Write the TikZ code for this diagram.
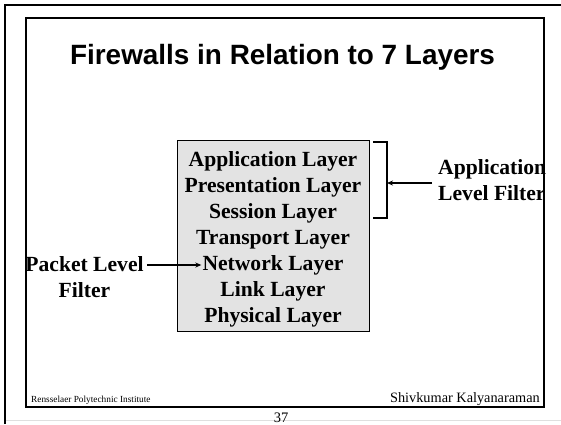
\documentclass[tikz,border=0pt]{standalone}
\usepackage{fontspec}
\setmainfont{Liberation Serif}
\newfontfamily\titlefont{Liberation Sans}
\usetikzlibrary{arrows.meta}
\tikzset{
  layer/.style={font=\bfseries\fontsize{21.6}{26}\selectfont, inner sep=0pt, anchor=base},
  label/.style={font=\bfseries\fontsize{21.6}{26}\selectfont, inner sep=0pt},
  pointer/.style={line width=1.2pt, -{Stealth[length=6pt,width=5pt]}},
}
\begin{document}
\begin{tikzpicture}[x=1pt,y=-1pt]
\useasboundingbox (0,0) rectangle (561,424);
% slide edges
\draw[gray!25, line width=1pt] (5,420.7) -- (561,420.7);
\draw[line width=2pt] (5,424) -- (5,5) -- (561,5);
% title
\node[font=\titlefont\bfseries\fontsize{27.9}{32}\selectfont, inner sep=0pt, anchor=base] (title) at (282.5,64) {Firewalls in Relation to 7 Layers};
% layer stack
\node[draw, line width=1pt, fill=black!11, minimum width=192pt, minimum height=191pt, inner sep=0pt] (stack) at (273,235.5) {};
\node[layer] (app)  at (273,166) {Application Layer};
\node[layer] (pres) at (273,192) {Presentation Layer};
\node[layer] (sess) at (273,218) {Session Layer};
\node[layer] (trans) at (273,244) {Transport Layer};
\node[layer] (net)  at (273,270) {Network Layer};
\node[layer] (link) at (273,296) {Link Layer};
\node[layer] (phys) at (273,322) {Physical Layer};
% bracket over the upper three layers
\coordinate (bt) at (387,142);
\coordinate (bb) at (387,218);
\draw[line width=1.2pt] (373,142) -- (bt) -- (bb) -- (373,218);
\coordinate (bm) at (387,183);
% filter labels (base anchor sits on the last line)
\node[label, align=left, anchor=base west] (appf) at (438,200) {Application\\Level Filter};
\node[label, align=center, anchor=base] (pktf) at (84.5,297) {Packet Level\\Filter};
\coordinate (as) at (432,183);
\coordinate (ps) at (147,265);
\draw[pointer] (as) -- (bm);
\draw[pointer] (ps) -- ([xshift=-1pt]net.west |- ps);
% inner frame
\draw[line width=1.1pt] (26,18) rectangle (544,407);
% footer
\node[font=\fontsize{9.3}{11}\selectfont, inner sep=0pt, anchor=base west] (inst) at (31,402) {Rensselaer Polytechnic Institute};
\node[font=\fontsize{14.3}{17}\selectfont, inner sep=0pt, anchor=base east] (auth) at (540,402) {Shivkumar Kalyanaraman};
\node[font=\fontsize{14.5}{17}\selectfont, inner sep=0pt, anchor=base] (page) at (281,422) {37};
\end{tikzpicture}
\end{document}
